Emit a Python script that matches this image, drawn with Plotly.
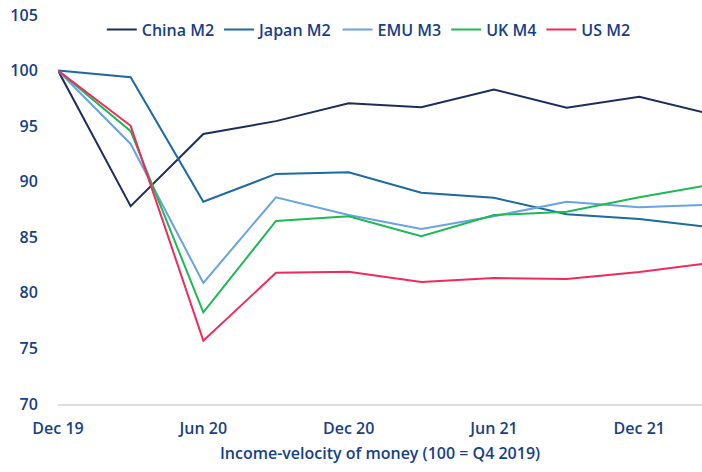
import plotly.graph_objects as go

quarters = ["Dec 19", "Mar 20", "Jun 20", "Sep 20", "Dec 20", "Mar 21", "Jun 21", "Sep 21", "Dec 21", "Mar 22"]
tick_labels = ["Dec 19", "Jun 20", "Dec 20", "Jun 21", "Dec 21"]

china_m2 = [100, 87.8, 94.3, 95.45, 97.05, 96.7, 98.3, 96.65, 97.65, 96.05]
japan_m2 = [100, 99.4, 88.2, 90.7, 90.85, 89.0, 88.55, 87.07, 86.65, 85.9]
emu_m3 = [100, 93.4, 80.9, 88.6, 87.0, 85.75, 86.9, 88.2, 87.7, 87.93]
uk_m4 = [100, 94.55, 78.25, 86.47, 86.9, 85.1, 87.0, 87.3, 88.6, 89.75]
us_m2 = [100, 95.03, 75.7, 81.8, 81.9, 80.97, 81.33, 81.24, 81.87, 82.7]

series = [
    ("China M2", china_m2, "#1c2d5c"),
    ("Japan M2", japan_m2, "#1b6aa0"),
    ("EMU M3", emu_m3, "#6aa3df"),
    ("UK M4", uk_m4, "#1db954"),
    ("US M2", us_m2, "#f2295b"),
]

text_color = "#173f86"
font_family = "'Open Sans', sans-serif"
fs = 16
fw = 600

x_idx = list(range(len(quarters)))

fig = go.Figure()
for name, vals, color in series:
    fig.add_trace(go.Scatter(
        x=x_idx, y=vals, name=name, mode="lines",
        line=dict(color=color, width=2),
        hovertext=quarters,
    ))

fig.update_layout(
    width=702, height=472,
    margin=dict(l=58, r=0, t=15, b=68),
    plot_bgcolor="white", paper_bgcolor="white",
    font=dict(family=font_family, size=fs, color=text_color, weight=fw),
    showlegend=True,
    legend=dict(
        orientation="h", x=0.068, xanchor="left", y=1.006, yanchor="top",
        font=dict(size=fs, color=text_color, weight=fw),
        itemwidth=30, tracegroupgap=0, bgcolor="rgba(0,0,0,0)",
    ),
    xaxis=dict(
        range=[0, 8.863], automargin=False,
        tickvals=[0, 2, 4, 6, 8], ticktext=tick_labels,
        showgrid=False, zeroline=False,
        showline=True, linecolor="#dedede", linewidth=1.5,
        ticks="outside", ticklen=9, tickcolor="rgba(0,0,0,0)",
        title=dict(text="Income-velocity of money (100 = Q4 2019)", standoff=10,
                   font=dict(size=fs, color=text_color, weight=fw)),
        tickfont=dict(size=fs, color=text_color, weight=fw),
        ticklabeloverflow="allow",
    ),
    yaxis=dict(
        range=[70, 105], automargin=False,
        tickvals=[70, 75, 80, 85, 90, 95, 100, 105],
        showgrid=False, zeroline=False, showline=False,
        ticks="outside", ticklen=16, tickcolor="rgba(0,0,0,0)",
        tickfont=dict(size=fs, color=text_color, weight=fw),
        ticklabeloverflow="allow",
    ),
)

# remove the browser's default 8px page margin so the figure fills the window
fig.write_html("out.html", config={"displayModeBar": False},
               post_script="document.body.style.margin='0px';")
